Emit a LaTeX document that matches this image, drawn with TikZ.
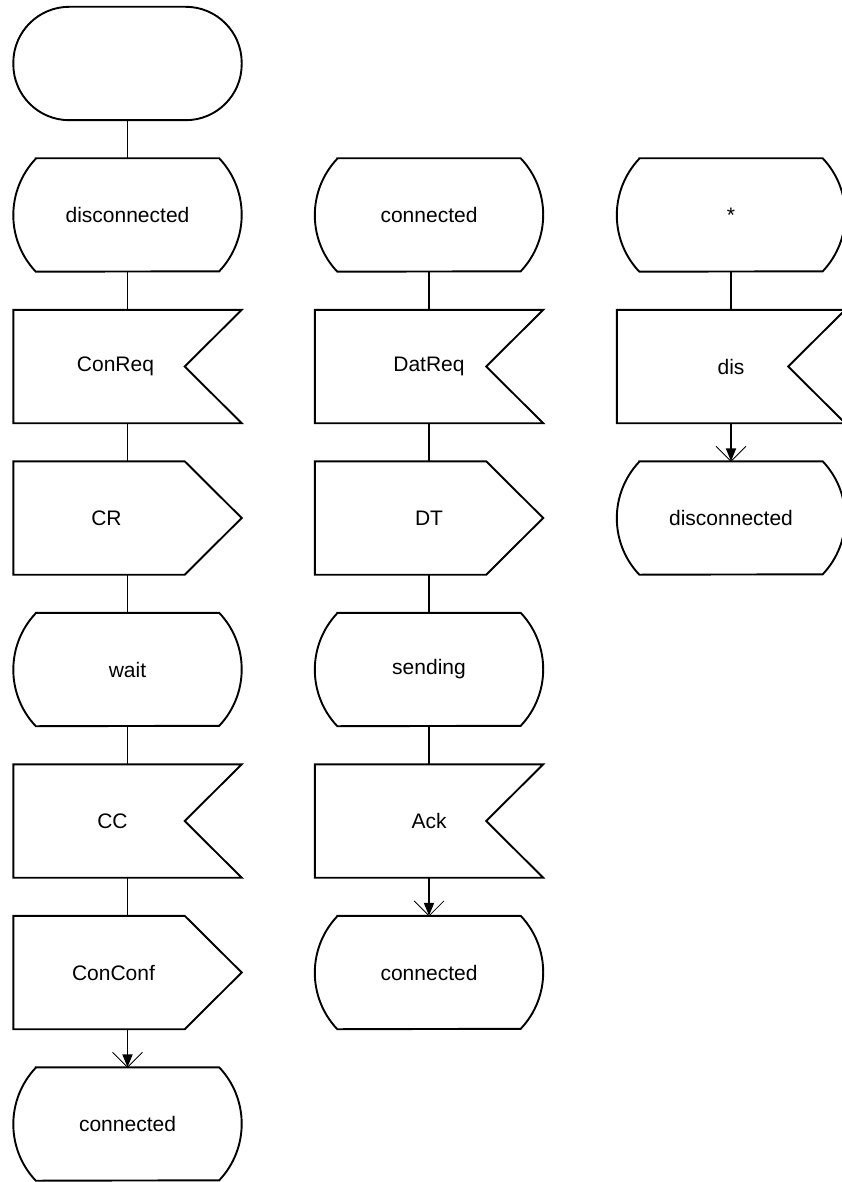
\documentclass[tikz,border=0pt]{standalone}
\usepackage{fontspec}
\setmainfont{Liberation Sans}
\usetikzlibrary{arrows.meta,calc}
\tikzset{
  box/.style={rectangle, draw=none, minimum width=228pt, minimum height=113pt, inner sep=0pt,
    font=\fontsize{21}{25}\selectfont},
  outline/.style={line width=1.9pt, line join=miter},
  conn/.style={line width=1.9pt},
  barb/.style={line width=0.8pt},
}
\newcommand\drawstate[1]{%
  \draw[outline] ([xshift=22.5pt]#1.north west) -- ([xshift=-22.5pt]#1.north east)
    arc[start angle=43.43, end angle=-43.43, radius=82.19pt]
    -- ([xshift=22.5pt]#1.south west)
    arc[start angle=223.43, end angle=136.57, radius=82.19pt] -- cycle;}
\newcommand\drawinput[1]{%
  \draw[outline] (#1.north west) -- (#1.north east) -- ([xshift=-57pt]#1.east)
    -- (#1.south east) -- (#1.south west) -- cycle;}
\newcommand\drawoutput[1]{%
  \draw[outline] (#1.north west) -- ([xshift=-57pt]#1.north east) -- (#1.east)
    -- ([xshift=-57pt]#1.south east) -- (#1.south west) -- cycle;}
\newcommand\drawstart[1]{%
  \draw[outline, rounded corners=56pt] (#1.north west) rectangle (#1.south east);}
\newcommand\arrowin[2]{%
  \draw[conn, -{Triangle[length=13pt,width=10pt]}] (#1.south) -- (#2.north);
  \draw[barb] ([shift={(-15pt,15pt)}]#2.north) -- (#2.north) -- ([shift={(15pt,15pt)}]#2.north);}
\begin{document}
\begin{tikzpicture}[x=1pt,y=1pt]
\useasboundingbox (0,0) rectangle (842,-1182);
% column 1
\node[box] (start) at (127.5,-63.5) {};
\node[box] (s1) at (127.5,-215) {disconnected};
\node[box] (i1) at (127.5,-366.5) {\hspace*{-24pt}ConReq};
\node[box] (o1) at (127.5,-518) {\hspace*{-42pt}CR};
\node[box] (s2) at (127.5,-669.5) {wait};
\node[box] (i2) at (127.5,-821) {\hspace*{-30pt}CC};
\node[box] (o2) at (127.5,-972.5) {\hspace*{-28pt}ConConf};
\node[box] (s3) at (127.5,-1124) {connected};
% column 2
\node[box] (t1) at (429,-215) {connected};
\node[box] (j1) at (429,-366.5) {DatReq};
\node[box] (p1) at (429,-518) {DT};
\node[box] (t2) at (429,-669.5) {sending};
\node[box] (j2) at (429,-821) {Ack};
\node[box] (t3) at (429,-972.5) {connected};
% column 3
\node[box] (u1) at (731,-215) {*};
\node[box] (k1) at (731,-366.5) {dis};
\node[box] (u2) at (731,-518) {disconnected};
% outlines
\drawstart{start}
\drawstate{s1}\drawstate{s2}\drawstate{s3}
\drawstate{t1}\drawstate{t2}\drawstate{t3}
\drawstate{u1}\drawstate{u2}
\drawinput{i1}\drawinput{i2}\drawinput{j1}\drawinput{j2}\drawinput{k1}
\drawoutput{o1}\drawoutput{o2}\drawoutput{p1}
% connectors
\draw[conn] (start.south) -- (s1.north);
\draw[conn] (s1.south) -- (i1.north);
\draw[conn] (i1.south) -- (o1.north);
\draw[conn] (o1.south) -- (s2.north);
\draw[conn] (s2.south) -- (i2.north);
\draw[conn] (i2.south) -- (o2.north);
\arrowin{o2}{s3}
\draw[conn] (t1.south) -- (j1.north);
\draw[conn] (j1.south) -- (p1.north);
\draw[conn] (p1.south) -- (t2.north);
\draw[conn] (t2.south) -- (j2.north);
\arrowin{j2}{t3}
\draw[conn] (u1.south) -- (k1.north);
\arrowin{k1}{u2}
\end{tikzpicture}
\end{document}
